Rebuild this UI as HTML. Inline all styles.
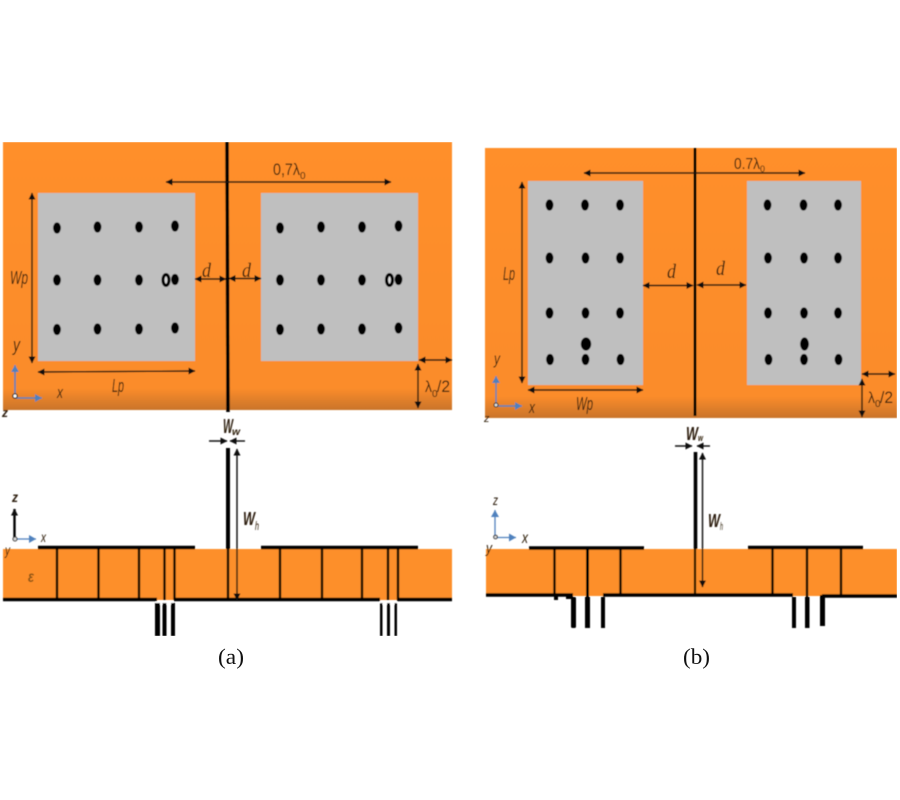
<!DOCTYPE html>
<html><head><meta charset="utf-8"><style>
html,body{margin:0;padding:0;background:#fff}
svg{display:block}
text{font-family:"Liberation Sans",sans-serif;font-style:italic;fill:#2a1a08}
.n{font-style:normal}
.s{font-family:"Liberation Serif",serif;font-style:normal;fill:#111}
.i{font-family:"Liberation Serif",serif;font-style:italic}
.a{stroke:#111;stroke-width:1.4;fill:none;marker-start:url(#h);marker-end:url(#h)}
.b{stroke:#111;stroke-width:1.4;fill:none;marker-end:url(#h)}
.v{stroke:#000;stroke-width:2.4}
.t{stroke:#000;stroke-width:3.4}
</style></head><body>
<svg width="900" height="800" viewBox="0 0 900 800" xmlns="http://www.w3.org/2000/svg">
<defs>
<filter id="f" x="0" y="0" width="100%" height="100%"><feGaussianBlur stdDeviation="0.4"/></filter>
<marker id="h" markerUnits="userSpaceOnUse" markerWidth="8" markerHeight="8" refX="6.500" refY="4" orient="auto-start-reverse"><path d="M0,0.500L7,4L0,7.500Z" fill="#111"/></marker>
<marker id="bl" markerUnits="userSpaceOnUse" markerWidth="8" markerHeight="8" refX="7" refY="4" orient="auto"><path d="M0,0L7,4L0,8Z" fill="#4f81bd"/></marker>
<linearGradient id="g1" x1="0" y1="0" x2="0" y2="1"><stop offset="0" stop-color="#ff8f2b"/><stop offset=".92" stop-color="#fb8c2a"/><stop offset="1" stop-color="#c9742a"/></linearGradient>
<g id="d4"><ellipse cx="0" cy="0" rx="3.900" ry="5.600"/></g>
<g id="ring"><ellipse cx="0" cy="0" rx="3" ry="5.400" fill="#ddd" stroke="#000" stroke-width="3.200"/></g>
</defs>
<g filter="url(#f)">
<!-- panel (a) top -->
<rect x="3" y="142" width="449" height="268" fill="url(#g1)"/>
<rect x="38" y="193" width="157" height="168" fill="#bfbfbf"/>
<rect x="261" y="193" width="157" height="168" fill="#bfbfbf"/>
<g fill="#000">
<use href="#d4" x="57" y="228"/><use href="#d4" x="97.500" y="227"/><use href="#d4" x="139" y="227"/><use href="#d4" x="175" y="226"/>
<use href="#d4" x="57" y="280"/><use href="#d4" x="97.500" y="280"/><use href="#d4" x="139" y="280"/><use href="#d4" x="175" y="279.500"/>
<use href="#d4" x="57" y="329.500"/><use href="#d4" x="97.500" y="329"/><use href="#d4" x="139" y="329"/><use href="#d4" x="175" y="328"/>
<use href="#d4" x="280" y="228"/><use href="#d4" x="321" y="227"/><use href="#d4" x="362" y="227"/><use href="#d4" x="398.500" y="226"/>
<use href="#d4" x="280" y="280"/><use href="#d4" x="321" y="280"/><use href="#d4" x="362" y="280"/><use href="#d4" x="398.500" y="279.500"/>
<use href="#d4" x="280" y="329.500"/><use href="#d4" x="321" y="329"/><use href="#d4" x="362" y="329"/><use href="#d4" x="398.500" y="328"/>
</g>
<use href="#ring" x="166" y="280"/><use href="#ring" x="389.500" y="280"/>
<line x1="227" y1="142" x2="228" y2="412" stroke="#000" stroke-width="3.600"/>
<line class="a" x1="166" y1="182" x2="391" y2="182"/>
<line class="a" x1="32" y1="193" x2="32" y2="363"/>
<line class="a" x1="38" y1="372" x2="195" y2="371"/>
<line class="a" x1="195" y1="279" x2="226" y2="279"/>
<line class="a" x1="229" y1="278.500" x2="261" y2="278.500"/>
<line class="a" x1="419" y1="360" x2="452" y2="360"/>
<line class="a" x1="418" y1="364" x2="418" y2="408"/>
<line x1="15" y1="396" x2="15" y2="365" stroke="#4f81bd" stroke-width="1.600" marker-end="url(#bl)"/>
<line x1="15" y1="398" x2="42" y2="398" stroke="#4f81bd" stroke-width="1.600" marker-end="url(#bl)"/>
<circle cx="15" cy="396" r="2.200" fill="#fff" stroke="#222" stroke-width="1.200"/>
<text class="n" x="273" y="175" font-size="17" textLength="27" lengthAdjust="spacingAndGlyphs">0,7λ</text><text class="n" x="300" y="179" font-size="10">0</text>
<text x="10" y="284" font-size="18" textLength="18" lengthAdjust="spacingAndGlyphs">Wp</text>
<text x="112" y="392" font-size="18" textLength="12" lengthAdjust="spacingAndGlyphs">Lp</text>
<text class="i" x="202" y="277" font-size="20" textLength="9" lengthAdjust="spacingAndGlyphs">d</text>
<text class="i" x="242" y="277" font-size="20" textLength="9" lengthAdjust="spacingAndGlyphs">d</text>
<text x="13" y="351" font-size="18" textLength="7" lengthAdjust="spacingAndGlyphs">y</text>
<text x="57" y="398" font-size="17" textLength="6" lengthAdjust="spacingAndGlyphs">x</text>
<text x="2" y="417" font-size="13" font-weight="bold" textLength="6" lengthAdjust="spacingAndGlyphs">z</text>
<text class="n" x="425" y="392" font-size="16" textLength="7" lengthAdjust="spacingAndGlyphs">λ</text><text class="n" x="432" y="397" font-size="10">0</text><text class="n" x="437" y="392" font-size="17" textLength="13" lengthAdjust="spacingAndGlyphs">/2</text>

<!-- panel (a) section -->
<rect x="3" y="549" width="449" height="51" fill="#fd8f2a"/>
<line class="t" x1="38" y1="547.500" x2="195" y2="547.500"/><line class="t" x1="261" y1="547.500" x2="418" y2="547.500"/>
<line class="t" x1="3" y1="599.500" x2="157" y2="599.500"/>
<line class="t" x1="174" y1="599.500" x2="380" y2="599.500"/>
<line class="t" x1="397" y1="599.500" x2="452" y2="599.500"/>
<rect x="156" y="601.500" width="17" height="3" fill="#fff"/>
<rect x="380" y="601.500" width="17" height="3" fill="#fff"/>
<line class="v" x1="57" y1="547" x2="57" y2="599"/><line class="v" x1="98.500" y1="547" x2="98.500" y2="599"/><line class="v" x1="139" y1="547" x2="139" y2="599"/><line class="v" x1="164.500" y1="547" x2="164.500" y2="600"/><line class="v" x1="174.500" y1="547" x2="174.500" y2="600"/>
<line class="v" x1="280" y1="547" x2="280" y2="599"/><line class="v" x1="322" y1="547" x2="322" y2="599"/><line class="v" x1="362" y1="547" x2="362" y2="599"/><line class="v" x1="388" y1="547" x2="388" y2="600"/><line class="v" x1="398" y1="547" x2="398" y2="600"/>
<rect x="155" y="603" width="5" height="33" fill="#000"/><rect x="162.500" y="603" width="4" height="33" fill="#000"/><rect x="171" y="603" width="4" height="33" fill="#000"/>
<rect x="380" y="603" width="2.500" height="33" fill="#000"/><rect x="387" y="603" width="3" height="33" fill="#000"/><rect x="394.500" y="603" width="2.500" height="33" fill="#000"/>
<line x1="228" y1="448" x2="228" y2="549" stroke="#000" stroke-width="4"/>
<line x1="228" y1="549" x2="228" y2="601" stroke="#000" stroke-width="2.400"/>
<line class="b" x1="209" y1="441" x2="227" y2="441"/>
<line class="b" x1="245" y1="441" x2="230" y2="441"/>
<line class="a" x1="237" y1="449" x2="237" y2="600"/>
<text x="223" y="433" font-size="20" font-weight="bold" textLength="10" lengthAdjust="spacingAndGlyphs">W</text><text x="232" y="435" font-size="10" font-weight="bold" textLength="8" lengthAdjust="spacingAndGlyphs">w</text>
<text x="243" y="525" font-size="18" font-weight="bold" textLength="12" lengthAdjust="spacingAndGlyphs">W</text><text x="255" y="530" font-size="12" textLength="4" lengthAdjust="spacingAndGlyphs">h</text>
<line x1="14.500" y1="538" x2="14.500" y2="509" stroke="#000" stroke-width="2.400" marker-end="url(#h)"/>
<line x1="15" y1="539" x2="36" y2="539" stroke="#4f81bd" stroke-width="1.300" marker-end="url(#bl)"/>
<circle cx="15" cy="539" r="2" fill="#ddd" stroke="#222"/>
<text x="12" y="502" font-size="14" font-weight="bold" textLength="6" lengthAdjust="spacingAndGlyphs">z</text>
<text x="41" y="542" font-size="14" textLength="5" lengthAdjust="spacingAndGlyphs">x</text>
<text x="5" y="555" font-size="14" textLength="5" lengthAdjust="spacingAndGlyphs">y</text>
<text x="28" y="582" font-size="16" font-weight="bold" textLength="6" lengthAdjust="spacingAndGlyphs" style="fill:#8a5212">ε</text>

<!-- panel (b) top -->
<rect x="485" y="148" width="412" height="270" fill="url(#g1)"/>
<rect x="528" y="181" width="115" height="204" fill="#bfbfbf"/>
<rect x="747" y="181" width="114" height="204" fill="#bfbfbf"/>
<g fill="#000">
<use href="#d4" x="549.500" y="205"/><use href="#d4" x="585" y="205"/><use href="#d4" x="620" y="205"/>
<use href="#d4" x="549.500" y="258"/><use href="#d4" x="585.500" y="258"/><use href="#d4" x="620" y="258"/>
<use href="#d4" x="549.500" y="313"/><use href="#d4" x="585.500" y="313"/><use href="#d4" x="620" y="313"/>
<use href="#d4" x="550" y="359.500"/><use href="#d4" x="585.500" y="359.500"/><use href="#d4" x="620.500" y="359.500"/>
<use href="#d4" x="767.500" y="205"/><use href="#d4" x="803.500" y="205"/><use href="#d4" x="838" y="205"/>
<use href="#d4" x="768" y="258"/><use href="#d4" x="804" y="258"/><use href="#d4" x="838" y="258"/>
<use href="#d4" x="768" y="313"/><use href="#d4" x="804" y="313"/><use href="#d4" x="838" y="313"/>
<use href="#d4" x="768.500" y="359.500"/><use href="#d4" x="804" y="359.500"/><use href="#d4" x="838.500" y="359.500"/>
<ellipse cx="586" cy="344" rx="5.200" ry="6.600"/><ellipse cx="804.500" cy="344" rx="4.400" ry="6.600"/>
</g>
<line x1="695" y1="148" x2="695" y2="416" stroke="#000" stroke-width="3"/>
<line class="a" x1="584" y1="173" x2="805" y2="173"/>
<line class="a" x1="522" y1="182" x2="522" y2="383"/>
<line class="a" x1="528" y1="390" x2="643" y2="390"/>
<line class="a" x1="643" y1="285.500" x2="693" y2="285.500"/>
<line class="a" x1="697" y1="285" x2="746" y2="285"/>
<line class="a" x1="862" y1="374" x2="895" y2="374"/>
<line class="a" x1="862" y1="379" x2="862" y2="417"/>
<line x1="496" y1="405" x2="496" y2="376" stroke="#4f81bd" stroke-width="1.400" marker-end="url(#bl)"/>
<line x1="496" y1="406" x2="522" y2="406" stroke="#4f81bd" stroke-width="1.400" marker-end="url(#bl)"/>
<circle cx="496" cy="405" r="2" fill="#ddd" stroke="#222"/>
<text class="n" x="734" y="169" font-size="16" textLength="26" lengthAdjust="spacingAndGlyphs">0.7λ</text><text class="n" x="760" y="172" font-size="9">0</text>
<text x="503" y="280" font-size="18" textLength="12" lengthAdjust="spacingAndGlyphs">Lp</text>
<text x="576" y="410" font-size="18" textLength="17" lengthAdjust="spacingAndGlyphs">Wp</text>
<text class="i" x="667" y="278" font-size="20" textLength="9" lengthAdjust="spacingAndGlyphs">d</text>
<text class="i" x="716" y="275" font-size="20" textLength="9" lengthAdjust="spacingAndGlyphs">d</text>
<text x="494" y="364" font-size="16" textLength="6" lengthAdjust="spacingAndGlyphs">y</text>
<text x="529" y="413" font-size="17" textLength="6" lengthAdjust="spacingAndGlyphs">x</text>
<text x="484" y="422" font-size="11">z</text>
<text class="n" x="868" y="403" font-size="16" textLength="7" lengthAdjust="spacingAndGlyphs">λ</text><text class="n" x="875" y="407" font-size="10">0</text><text class="n" x="880" y="403" font-size="17" textLength="13" lengthAdjust="spacingAndGlyphs">/2</text>

<!-- panel (b) section -->
<rect x="486" y="549" width="411" height="47" fill="#fd8f2a"/>
<line class="t" x1="529" y1="548" x2="644" y2="548"/>
<line class="t" x1="748" y1="547.500" x2="863" y2="547.500"/>
<line class="t" x1="486" y1="595" x2="573" y2="595"/>
<line class="t" x1="603" y1="595" x2="793" y2="595"/>
<line class="t" x1="822" y1="596" x2="897" y2="596"/>
<line class="v" x1="554.500" y1="548" x2="554.500" y2="596"/>
<line x1="587.500" y1="548" x2="587.500" y2="597" stroke="#000" stroke-width="3"/>
<line class="v" x1="620.500" y1="548" x2="620.500" y2="596"/>
<line class="v" x1="772.500" y1="548" x2="772.500" y2="596"/>
<line class="v" x1="807" y1="548" x2="807" y2="597"/>
<line class="v" x1="841" y1="548" x2="841" y2="596"/>
<rect x="554" y="596" width="4" height="4" fill="#000"/><rect x="566" y="596" width="7" height="3" fill="#000"/>
<rect x="571" y="597" width="5" height="31" rx="1.500" fill="#000"/><rect x="585" y="597" width="5" height="31" fill="#000"/><rect x="601" y="597" width="4" height="31" fill="#000"/>
<rect x="792" y="597" width="4" height="31" fill="#000"/><rect x="805" y="597" width="4.500" height="31" fill="#000"/><rect x="820" y="595" width="5" height="31" fill="#000"/>
<line x1="695.500" y1="452" x2="695.500" y2="549" stroke="#000" stroke-width="3.600"/>
<line x1="695" y1="549" x2="695" y2="596" stroke="#000" stroke-width="2.200"/>
<line class="b" x1="675" y1="446" x2="692" y2="446"/>
<line class="b" x1="710" y1="446" x2="697" y2="446"/>
<line class="a" x1="702.500" y1="453" x2="702.500" y2="587"/>
<text x="686" y="440" font-size="18" font-weight="bold" textLength="12" lengthAdjust="spacingAndGlyphs">W</text><text x="698" y="441" font-size="9" font-weight="bold" textLength="5" lengthAdjust="spacingAndGlyphs">w</text>
<text x="708" y="527" font-size="18" font-weight="bold" textLength="12" lengthAdjust="spacingAndGlyphs">W</text><text x="720" y="530" font-size="11" textLength="3" lengthAdjust="spacingAndGlyphs">h</text>
<line x1="495" y1="536" x2="495" y2="510" stroke="#4f81bd" stroke-width="1.300" marker-end="url(#bl)"/>
<line x1="495" y1="537.500" x2="516" y2="537.500" stroke="#4f81bd" stroke-width="1.300" marker-end="url(#bl)"/>
<circle cx="495.500" cy="537" r="1.800" fill="#ddd" stroke="#222"/>
<text x="493" y="505" font-size="14" textLength="5" lengthAdjust="spacingAndGlyphs">z</text>
<text x="522" y="543" font-size="16" textLength="6" lengthAdjust="spacingAndGlyphs">x</text>
<text x="486" y="553" font-size="15" textLength="6" lengthAdjust="spacingAndGlyphs">y</text>
</g>
<text class="s" x="218" y="664" font-size="22" textLength="26" lengthAdjust="spacingAndGlyphs">(a)</text>
<text class="s" x="683" y="664" font-size="22" textLength="27" lengthAdjust="spacingAndGlyphs">(b)</text>
</svg>
</body></html>
